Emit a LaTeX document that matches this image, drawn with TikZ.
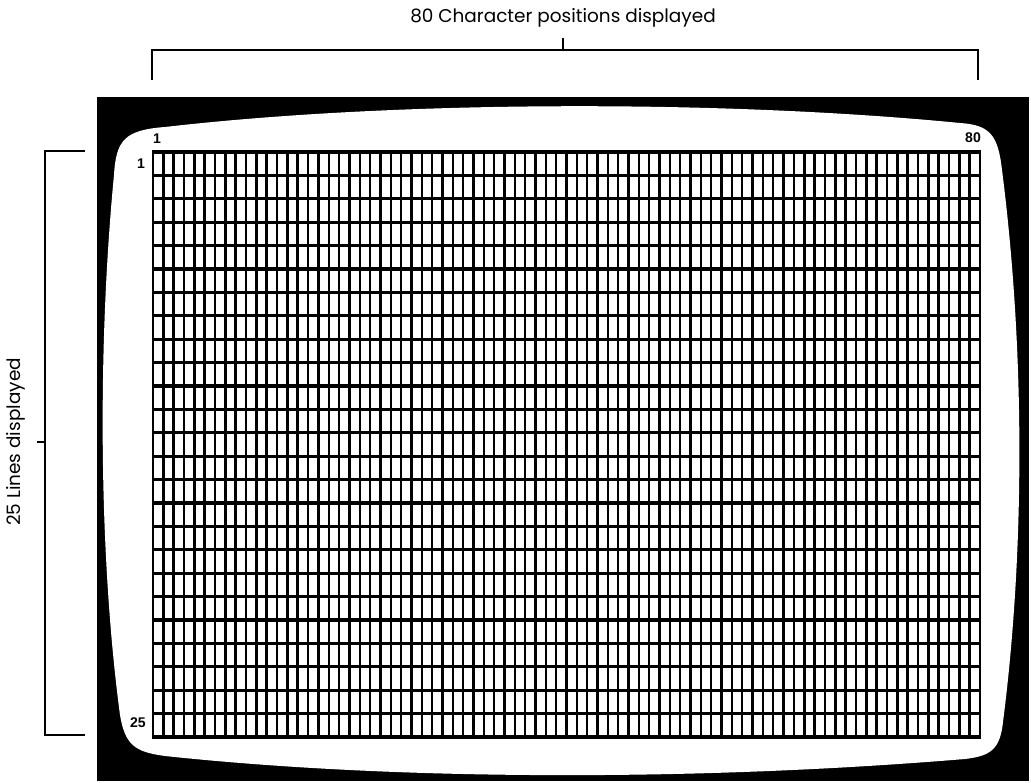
\documentclass[tikz,border=0pt]{standalone}
\usepackage{fontspec}
\newfontfamily\captionfont{Poppins}
\newfontfamily\numfont{Liberation Sans}
\usetikzlibrary{positioning, calc}
\tikzset{
	caption/.style={inner sep=0pt, font=\captionfont\fontsize{10.5}{12}\selectfont},
	cellno/.style={inner sep=0pt, font=\numfont\bfseries\fontsize{8}{9}\selectfont},
	bracket/.style={line width=1pt, draw=black},
	frame/.style={fill=black, draw=none},
	screen/.style={fill=white, draw=none},
	rowline/.style={line width=1.8pt, draw=black},
	colline/.style={line width=1.4pt, draw=black},
}

\begin{document}
\begin{tikzpicture}[x=0.02cm, y=-0.02cm]
		\useasboundingbox (0,0) rectangle (1031,783);
		\fill[frame] (97,97) rectangle (1029,781);
		\fill[screen] (114,175) .. controls (116,140) and (125,130) .. (165,127)
			.. controls (400,100) and (725,100) .. (960,123)
			.. controls (990,125) and (998,135) .. (1002,170)
			.. controls (1025,350) and (1025,550) .. (1003,722)
			.. controls (1000,750) and (990,756) .. (965,759)
			.. controls (700,781) and (400,781) .. (165,756)
			.. controls (135,752) and (125,745) .. (120,715)
			.. controls (98,550) and (98,340) .. (114,175) -- cycle;
		\foreach \i in {0,...,80}{\draw[colline] ({153+\i*10.3375},152) -- ({153+\i*10.3375},737);}
		\foreach \j in {0,...,25}{\draw[rowline] (152.4,{152+\j*23.4}) -- (980.6,{152+\j*23.4});}
		\node[cellno] (colfirst) at (157,139) {1};
		\node[cellno] (collast) at (973,138) {80};
		\node[cellno] (rowfirst) at (141,164) {1};
		\node[cellno] (rowlast) at (138,723) {25};
		\node[caption] (cols) at (563,18) {80 Character positions displayed};
		\coordinate (cl) at (152,80);
		\coordinate (cr) at (978,80);
		\coordinate (cm) at (563,50);
		\draw[bracket] (cl) |- (cm) -| (cr);
		\draw[bracket] (cm) -- ++(0,-12);
		\node[caption, rotate=90] (rows) at (16,442) {25 Lines displayed};
		\coordinate (rt) at (85,151);
		\coordinate (rb) at (85,735);
		\coordinate (rm) at (45,442);
		\draw[bracket] (rt) -| (rm) |- (rb);
		\draw[bracket] (rm) -- ++(-8,0);
	\end{tikzpicture}
\end{document}
